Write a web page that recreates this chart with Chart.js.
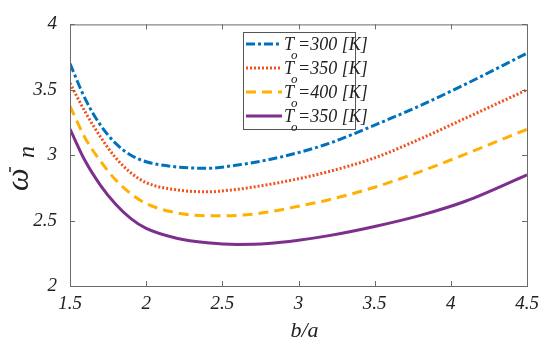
<!DOCTYPE html>
<html>
<head>
<meta charset="utf-8">
<script src="https://cdn.jsdelivr.net/npm/chart.js@4.4.0/dist/chart.umd.min.js"></script>
<style>
  html, body { margin: 0; padding: 0; background: #fff; }
  #wrap { width: 550px; height: 348px; }
</style>
</head>
<body>
<div id="wrap"><canvas id="myChart"></canvas></div>
<script>
// b/a values (x) and natural frequency for each temperature
const ratios = [1.5, 1.6, 1.7, 1.8, 1.9, 2.0, 2.2, 2.4, 2.6, 2.8, 3.0, 3.2, 3.5, 3.8, 4.1, 4.5];
const omega300 = [3.70, 3.43, 3.23, 3.09, 3.00, 2.95, 2.91, 2.90, 2.925, 2.965, 3.02, 3.09, 3.23, 3.38, 3.545, 3.78];
const omega350 = [3.55, 3.33, 3.14, 2.98, 2.865, 2.79, 2.735, 2.72, 2.74, 2.775, 2.82, 2.875, 2.98, 3.125, 3.285, 3.50];
const omega400 = [3.375, 3.13, 2.955, 2.81, 2.705, 2.63, 2.56, 2.537, 2.54, 2.565, 2.61, 2.66, 2.755, 2.875, 3.01, 3.198];
const omega350b = [3.20, 2.955, 2.77, 2.625, 2.515, 2.44, 2.365, 2.33, 2.318, 2.325, 2.35, 2.385, 2.455, 2.54, 2.65, 2.85];
const legendTemps = ["300", "350", "400", "350"];
const xTicks = [1.5, 2, 2.5, 3, 3.5, 4, 4.5];
const yTicks = [2, 2.5, 3, 3.5, 4];

const serif = "'Liberation Serif', 'Times New Roman', 'DejaVu Serif', serif";

function toPoints(ys) {
  return ratios.map((x, i) => ({ x: x, y: ys[i] }));
}

const series = [
  { data: omega300, color: "#0072BD", dash: [9, 3, 3, 3] },
  { data: omega350, color: "#F2501C", dash: [2, 2] },
  { data: omega400, color: "#FFB000", dash: [10, 6] },
  { data: omega350b, color: "#7E2F8E", dash: [] }
];

// frame, inward ticks, axis titles and the legend box
const decorations = {
  id: "decorations",
  afterDatasetsDraw(chart) {
    const ctx = chart.ctx;
    const a = chart.chartArea;
    const xs = chart.scales.x, ys = chart.scales.y;
    ctx.save();
    ctx.strokeStyle = "#6b6b6b";
    ctx.lineWidth = 1;
    ctx.setLineDash([]);
    ctx.strokeRect(a.left + 0.5, a.top + 0.5, a.right - a.left, a.bottom - a.top);
    ctx.beginPath();
    xTicks.forEach(v => {
      const px = Math.round(xs.getPixelForValue(v)) + 0.5;
      ctx.moveTo(px, a.bottom); ctx.lineTo(px, a.bottom - 5);
      ctx.moveTo(px, a.top); ctx.lineTo(px, a.top + 5);
    });
    yTicks.forEach(v => {
      const py = Math.round(ys.getPixelForValue(v)) + 0.5;
      ctx.moveTo(a.left, py); ctx.lineTo(a.left + 5, py);
      ctx.moveTo(a.right, py); ctx.lineTo(a.right - 5, py);
    });
    ctx.stroke();

    // x title
    ctx.fillStyle = "#222";
    ctx.font = "italic 22px " + serif;
    ctx.textAlign = "center";
    ctx.textBaseline = "middle";
    ctx.fillText("b/a", (a.left + a.right) / 2 + 6, 331);

    // y title, rotated: omega with a bar and subscript n
    ctx.save();
    ctx.translate(28, 191);
    ctx.rotate(-Math.PI / 2);
    ctx.textAlign = "left";
    ctx.textBaseline = "alphabetic";
    ctx.font = "italic 32px " + serif;
    ctx.fillText("\u03C9", 0, 0);
    ctx.strokeStyle = "#222";
    ctx.lineWidth = 1.5;
    ctx.beginPath();
    ctx.moveTo(19, -18); ctx.lineTo(24, -18);
    ctx.stroke();
    ctx.font = "italic 24px " + serif;
    ctx.fillText("n", 33, 6);
    ctx.restore();

    // legend
    const lx = 243, ly = 32, lw = 112, lh = 97;
    ctx.fillStyle = "#fff";
    ctx.fillRect(lx, ly, lw, lh);
    ctx.strokeStyle = "#555";
    ctx.lineWidth = 1;
    ctx.strokeRect(lx + 0.5, ly + 0.5, lw, lh);
    series.forEach((s, i) => {
      const y = ly + 12 + i * 24;
      ctx.strokeStyle = s.color;
      ctx.lineWidth = 3;
      ctx.setLineDash(s.dash);
      ctx.beginPath();
      ctx.moveTo(lx + 3, y); ctx.lineTo(lx + 39, y);
      ctx.stroke();
      ctx.setLineDash([]);
      ctx.fillStyle = "#222";
      ctx.textAlign = "left";
      ctx.textBaseline = "alphabetic";
      ctx.font = "italic 18px " + serif;
      ctx.fillText("T", lx + 41, y + 6);
      ctx.font = "italic 13px " + serif;
      ctx.fillText("o", lx + 48, y + 15);
      ctx.font = "italic 18px " + serif;
      ctx.fillText("=" + legendTemps[i] + " [K]", lx + 55, y + 6);
    });
    ctx.restore();
  }
};

const myChart = document.getElementById("myChart");
new Chart(myChart, {
  type: "line",
  data: {
    datasets: series.map((s, i) => ({
      label: "T_o=" + legendTemps[i] + " [K]",
      data: toPoints(s.data),
      borderColor: s.color,
      borderDash: s.dash,
      borderWidth: 3,
      pointRadius: 0,
      fill: false,
      cubicInterpolationMode: "monotone"
    }))
  },
  options: {
    responsive: true,
    maintainAspectRatio: false,
    animation: false,
    layout: { padding: { left: 0, right: 23, top: 20, bottom: 0 } },
    plugins: { legend: { display: false }, tooltip: { enabled: false } },
    scales: {
      x: {
        type: "linear",
        min: 1.5,
        max: 4.5,
        afterBuildTicks: s => { s.ticks = xTicks.map(v => ({ value: v })); },
        afterFit: s => { s.height = 62; },
        grid: { display: false, drawTicks: false },
        border: { display: false },
        ticks: {
          padding: 7,
          color: "#222",
          font: { family: serif, size: 19, style: "italic" },
          maxRotation: 0,
          callback: v => String(v)
        }
      },
      y: {
        min: 2,
        max: 4,
        afterBuildTicks: s => { s.ticks = yTicks.map(v => ({ value: v })); },
        afterFit: s => { s.width = 70; },
        grid: { display: false, drawTicks: false },
        border: { display: false },
        ticks: {
          padding: 13,
          color: "#222",
          font: { family: serif, size: 19, style: "italic" },
          callback: v => String(v)
        }
      }
    }
  },
  plugins: [decorations]
});
</script>
</body>
</html>
